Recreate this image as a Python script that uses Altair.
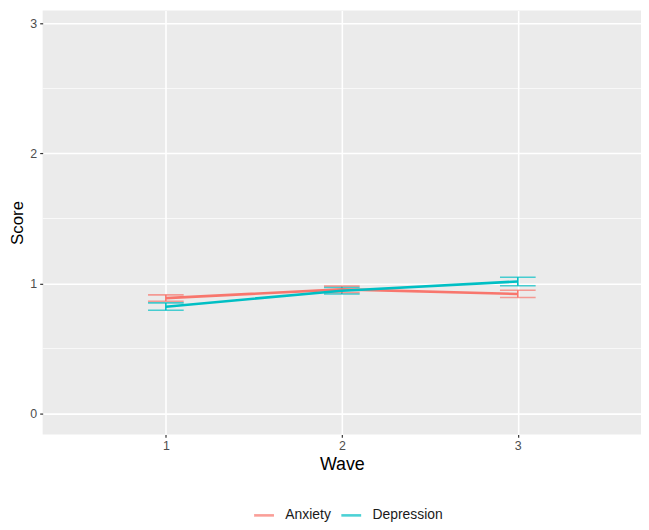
import altair as alt
import pandas as pd

waves = [1, 2, 3]
anxiety_mean = [0.888, 0.955, 0.920]
anxiety_lo = [0.863, 0.930, 0.892]
anxiety_hi = [0.913, 0.980, 0.948]
depression_mean = [0.822, 0.945, 1.016]
depression_lo = [0.794, 0.920, 0.983]
depression_hi = [0.851, 0.970, 1.048]
groups = ["Anxiety", "Depression"]
colors = ["#F8766D", "#00BFC4"]
y_ticks = [0, 1, 2, 3]
y_minor = [0.5, 1.5, 2.5]

rows = []
for g, m, lo, hi in [("Anxiety", anxiety_mean, anxiety_lo, anxiety_hi),
                     ("Depression", depression_mean, depression_lo, depression_hi)]:
    for w, a, b, c in zip(waves, m, lo, hi):
        rows.append({"Wave": w, "group": g, "Score": a, "lo": b, "hi": c})
df = pd.DataFrame(rows)
minor_df = pd.DataFrame({"v": y_minor})

xscale = alt.Scale(domain=[0.3, 3.7], nice=False, zero=False)
yscale = alt.Scale(domain=[-0.16, 3.1], nice=False, zero=False)
cscale = alt.Scale(domain=groups, range=colors)

xaxis = alt.Axis(values=waves, format="d", title="Wave", grid=True, gridColor="white",
                 gridWidth=1.6, domain=False, tickColor="#333333", tickSize=3, tickWidth=1.2,
                 labelColor="#4D4D4D", labelFontSize=12.5, labelPadding=2,
                 titleFontSize=18, titleFontWeight="normal", titleColor="#000000", titlePadding=4)
yaxis = alt.Axis(values=y_ticks, format="d", title="Score", grid=True, gridColor="white",
                 gridWidth=1.6, domain=False, tickColor="#333333", tickSize=3, tickWidth=1.2,
                 labelColor="#4D4D4D", labelFontSize=12.5, labelPadding=3,
                 titleFontSize=17, titleFontWeight="normal", titleColor="#000000", titlePadding=3)

minor = alt.Chart(minor_df).mark_rule(color="white", strokeWidth=0.7).encode(
    y=alt.Y("v:Q", scale=yscale, axis=yaxis, title="Score"))

base = alt.Chart(df)

line = base.mark_line(strokeWidth=2.6).encode(
    x=alt.X("Wave:Q", scale=xscale, axis=xaxis),
    y=alt.Y("Score:Q", scale=yscale, axis=yaxis),
    color=alt.Color("group:N", scale=cscale,
                    legend=alt.Legend(title=None, orient="none", direction="horizontal",
                                      legendX=212, legendY=498, symbolType="stroke",
                                      symbolStrokeWidth=2.6, symbolSize=400,
                                      labelFontSize=14, labelColor="#1A1A1A",
                                      columnPadding=5, labelOffset=10)))

vbar = base.mark_rule(strokeWidth=1.6).encode(
    x=alt.X("Wave:Q", scale=xscale),
    y=alt.Y("lo:Q", scale=yscale),
    y2="hi:Q",
    color=alt.Color("group:N", scale=cscale))

cap_lo = base.mark_tick(orient="horizontal", size=36, thickness=1.6).encode(
    x=alt.X("Wave:Q", scale=xscale),
    y=alt.Y("lo:Q", scale=yscale),
    color=alt.Color("group:N", scale=cscale))
cap_hi = base.mark_tick(orient="horizontal", size=36, thickness=1.6).encode(
    x=alt.X("Wave:Q", scale=xscale),
    y=alt.Y("hi:Q", scale=yscale),
    color=alt.Color("group:N", scale=cscale))

chart = alt.layer(minor, vbar, cap_lo, cap_hi, line).properties(
    width=604, height=428,
    autosize=alt.AutoSizeParams(type="none"),
    padding={"left": 35, "top": 0, "right": 0, "bottom": 86},
).configure(
    font="Liberation Sans", background="white",
    view=alt.ViewConfig(fill="#EBEBEB", stroke=None))

chart.save("out.html", embed_options={"renderer": "svg", "actions": False})
